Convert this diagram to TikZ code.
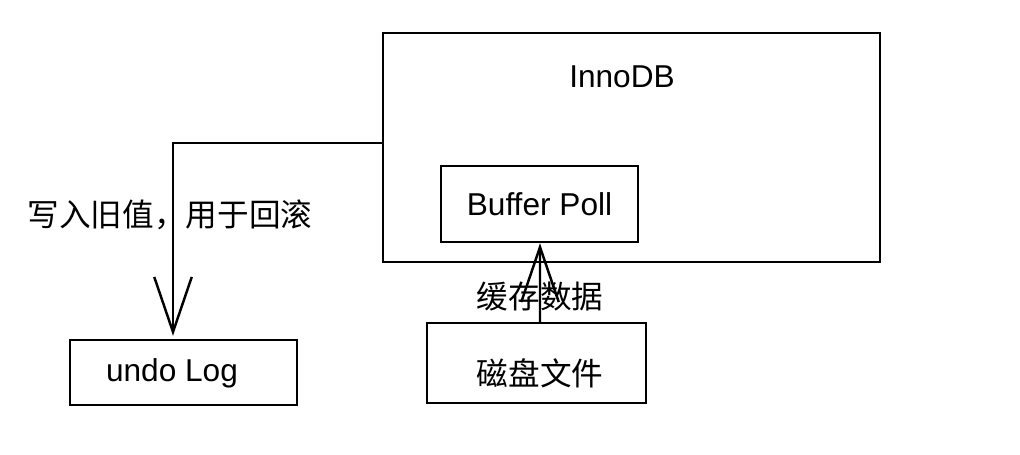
\documentclass[tikz,border=0pt]{standalone}
\usepackage{fontspec}
\setmainfont{Liberation Sans}
\newfontfamily\cjk{Noto Sans CJK SC}
\usetikzlibrary{arrows.meta,positioning}

\begin{document}
\begin{tikzpicture}[x=0.02cm,y=-0.02cm,line width=1.4pt,
  box/.style = {draw, rectangle, inner sep=0},
  txt/.style = {font=\fontsize{18}{22}\selectfont, inner sep=0},
  arr/.style = {-{Straight Barb[length=1.1cm,width=0.75cm,line width=1.4pt]}}]

\useasboundingbox (0,0) rectangle (1020,454);

% InnoDB with its buffer
\node[box, minimum width=9.94cm, minimum height=4.58cm] (innodb) at (631.5,147.5) {};
\node[txt] (innodbtxt) at (622,77) {InnoDB};
\node[box, txt, minimum width=3.94cm, minimum height=1.52cm] (buffer) at (539.5,204) {Buffer Poll};

\node[box, minimum width=4.54cm, minimum height=1.3cm] (undo) at (183.5,372.5) {};
\node[txt] (undotxt) at (172,373) {undo Log};
\node[box, minimum width=4.38cm, minimum height=1.6cm] (disk) at (536.5,363) {};
\node[txt] (disktxt) at (540,373) {\cjk 磁盘文件};

 \draw[arr] (innodb.west |- 0,143) -| ([xshift=-0.21cm,yshift=0.06cm]undo.north);
 \node[txt] (writelbl) at (170,215) {\cjk 写入旧值，用于回滚};

 \draw[arr] ([xshift=0.07cm,yshift=-0.04cm]disk.north) -- ([xshift=0.01cm]buffer.south);
 \node[txt] (cachelbl) at (540,297) {\cjk 缓存数据};
\end{tikzpicture}
\end{document}
